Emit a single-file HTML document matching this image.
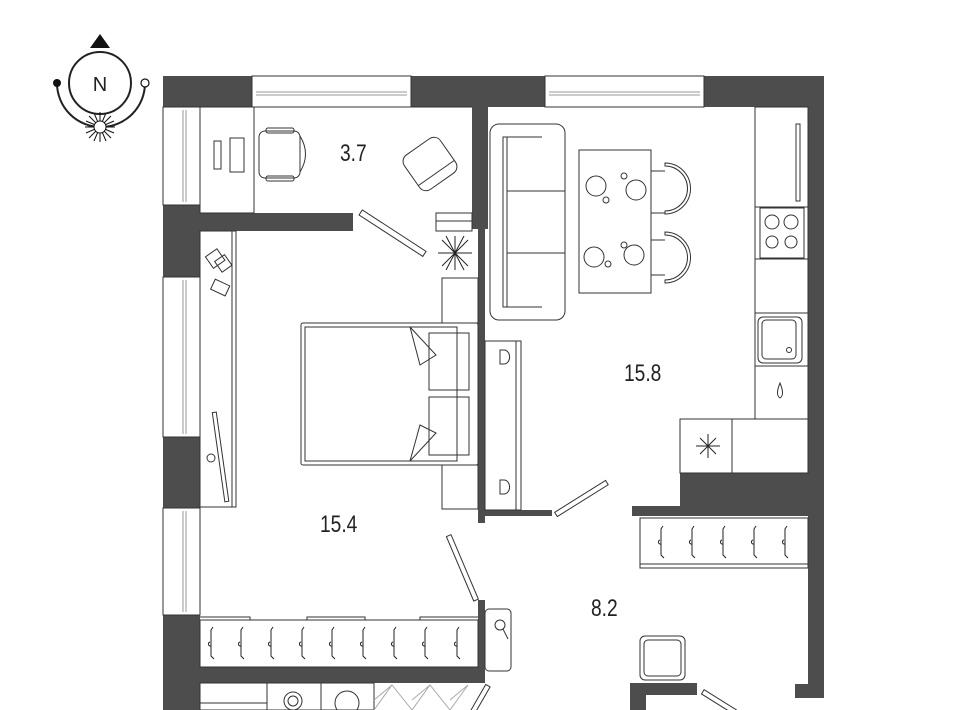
<!DOCTYPE html>
<html><head><meta charset="utf-8"><style>
html,body{margin:0;padding:0;background:#fff;}
svg{display:block}
text{font-family:"Liberation Sans Narrow","Liberation Sans",sans-serif;fill:#222}
</style></head><body>
<svg width="960" height="710" viewBox="0 0 960 710" xmlns="http://www.w3.org/2000/svg">
<g fill="none" stroke="#222" stroke-width="1.2">
<circle cx="100" cy="83" r="31" stroke-width="2"/>
<path d="M57,83 A44,44 0 0 0 145,83" stroke-width="2"/>
</g>
<polygon points="90,48 110,48 100,34" fill="#111"/>
<circle cx="57" cy="83" r="4" fill="#111"/>
<circle cx="145" cy="83" r="4" fill="#fff" stroke="#111" stroke-width="1.2"/>
<text x="100" y="91" font-size="20" text-anchor="middle" font-family="Liberation Sans">N</text>
<g stroke="#111" stroke-width="1">
<line x1="100" y1="112" x2="100" y2="142"/><line x1="85" y1="127" x2="115" y2="127"/>
<line x1="89" y1="116" x2="111" y2="138"/><line x1="111" y1="116" x2="89" y2="138"/>
<line x1="94" y1="113" x2="106" y2="141"/><line x1="106" y1="113" x2="94" y2="141"/>
<line x1="86" y1="121" x2="114" y2="133"/><line x1="86" y1="133" x2="114" y2="121"/>
</g>
<circle cx="100" cy="127" r="6" fill="#fff" stroke="#111"/>

<g fill="#4d4d4d">
<rect x="163" y="76" width="89" height="31"/>
<rect x="411" y="76" width="134" height="31"/>
<rect x="704" y="76" width="120" height="31"/>
<rect x="808" y="76" width="16" height="622"/>
<rect x="163" y="205" width="37" height="72"/>
<rect x="200" y="213" width="153" height="18"/>
<rect x="472" y="107" width="16" height="122"/>
<rect x="478" y="229" width="7" height="294"/>
<rect x="485" y="510" width="67" height="6"/>
<rect x="163" y="437" width="37" height="71"/>
<rect x="163" y="615" width="37" height="95"/>
<rect x="200" y="667" width="285" height="16"/>
<rect x="478" y="600" width="7" height="83"/>
<rect x="680" y="473" width="128" height="37"/>
<rect x="632" y="506" width="176" height="10"/>
<rect x="630" y="683" width="67" height="12"/>
<rect x="630" y="683" width="16" height="27"/>
<rect x="795" y="684" width="13" height="14"/>
</g>

<g fill="none" stroke="#333" stroke-width="1">
<rect x="252" y="76" width="159" height="31"/><line x1="256" y1="92" x2="407" y2="92" stroke="#999"/><line x1="256" y1="95" x2="407" y2="95" stroke="#999"/>
<rect x="545" y="76" width="159" height="31"/><line x1="549" y1="92" x2="700" y2="92" stroke="#999"/><line x1="549" y1="95" x2="700" y2="95" stroke="#999"/>
<rect x="163" y="107" width="37" height="98"/><line x1="183" y1="110" x2="183" y2="202" stroke="#999"/><line x1="186" y1="110" x2="186" y2="202" stroke="#999"/>
<rect x="163" y="277" width="37" height="160"/><line x1="183" y1="280" x2="183" y2="434" stroke="#999"/><line x1="186" y1="280" x2="186" y2="434" stroke="#999"/>
<rect x="163" y="508" width="37" height="107"/><line x1="183" y1="511" x2="183" y2="612" stroke="#999"/><line x1="186" y1="511" x2="186" y2="612" stroke="#999"/>
<line x1="200" y1="107" x2="472" y2="107"/>
<rect x="200" y="107" width="54" height="106"/>
<rect x="214" y="141" width="7" height="28"/><rect x="230" y="138" width="14" height="34"/>
<rect x="259" y="131" width="41" height="47" rx="6"/><path d="M300,136 Q311,154 300,172"/>
<rect x="266" y="128" width="28" height="5" rx="2"/><rect x="266" y="176" width="28" height="5" rx="2"/>
<g transform="rotate(-35 430 164)"><rect x="408" y="143" width="44" height="42" rx="8"/><line x1="408" y1="175" x2="452" y2="175"/></g>
<g transform="rotate(33 392 234)"><rect x="354" y="230" width="76" height="6"/></g>
<rect x="436" y="213" width="36" height="18"/><line x1="436" y1="221" x2="472" y2="221"/>
<g stroke="#222"><line x1="438" y1="253" x2="472" y2="253"/><line x1="455" y1="236" x2="455" y2="270"/><line x1="442" y1="240" x2="468" y2="266"/><line x1="468" y1="240" x2="442" y2="266"/><line x1="446" y1="236" x2="464" y2="270"/><line x1="464" y1="236" x2="446" y2="270"/></g>
<rect x="200" y="231" width="36" height="276"/><line x1="232" y1="231" x2="232" y2="507"/>
<g transform="rotate(-35 216 258)"><rect x="208" y="251" width="14" height="14"/></g>
<g transform="rotate(-35 223 263)"><rect x="217" y="257" width="12" height="13"/></g>
<g transform="rotate(25 220 288)"><rect x="212" y="282" width="16" height="11"/></g>
<g transform="rotate(-8 220 453)"><rect x="218" y="412" width="4" height="90"/></g>
<circle cx="211" cy="458" r="4"/>
<rect x="442" y="278" width="36" height="45"/><rect x="442" y="465" width="36" height="44"/>
<rect x="301" y="323" width="177" height="142" rx="2"/><rect x="305" y="327" width="152" height="134"/>
<rect x="429" y="333" width="40" height="57"/><rect x="429" y="397" width="40" height="58"/>
<path d="M410,327 L436,355 L420,365 Z"/><path d="M410,461 L436,433 L420,425 Z"/>
<path d="M200,617 L250,617 L250,620 L307,620 L307,617 L365,617 L365,620 L420,620 L420,617 L478,617"/>
<rect x="200" y="620" width="278" height="47"/>
<g transform="rotate(-23 467 580)"><rect x="465" y="532" width="5" height="70"/></g>
<rect x="485" y="609" width="26" height="62" rx="4"/><circle cx="500" cy="625" r="5"/><line x1="503" y1="629" x2="508" y2="639"/>
<rect x="200" y="683" width="67" height="27"/><line x1="200" y1="703" x2="267" y2="703"/>
<rect x="267" y="683" width="54" height="27"/><rect x="321" y="683" width="53" height="27"/>
<circle cx="293" cy="701" r="9"/><circle cx="293" cy="701" r="5"/><circle cx="347" cy="703" r="12"/>
<g stroke="#aaa"><path d="M374,710 L392,685 L412,710 L430,685 L450,710 L468,685 M392,685 L374,700 M430,685 L412,700 M468,685 L450,700"/></g>
<g transform="rotate(30 482 695)"><rect x="480" y="684" width="5" height="30"/></g>
<rect x="485" y="341" width="36" height="169"/><line x1="516" y1="341" x2="516" y2="510"/>
<path d="M500,350 h4 a4,5 0 0 1 0,14 h-4 z"/><path d="M500,480 h4 a4,5 0 0 1 0,14 h-4 z"/>
<g transform="rotate(-32 580 500)"><rect x="552" y="497" width="60" height="5"/></g>
<rect x="490" y="124" width="75" height="196" rx="9"/><path d="M504,137 L542,137 M504,307 L542,307"/><rect x="503" y="137" width="4" height="170"/>
<line x1="507" y1="191" x2="565" y2="191"/><line x1="507" y1="253" x2="565" y2="253"/>
<rect x="579" y="150" width="72" height="143"/>
<circle cx="596" cy="186" r="10"/><circle cx="636" cy="190" r="10"/><circle cx="594" cy="257" r="10"/><circle cx="634" cy="255" r="10"/>
<circle cx="606" cy="200" r="3"/><circle cx="624" cy="176" r="3"/><circle cx="608" cy="264" r="3"/><circle cx="624" cy="245" r="3"/>
<path d="M651,171 L665,171 M651,213 L665,213"/><path d="M665,163 A25,25 0 0 1 665,214 L665,211 A22,22 0 0 0 665,166 Z"/>
<path d="M651,240 L665,240 M651,275 L665,275"/><path d="M665,232 A25,25 0 0 1 665,283 L665,280 A22,22 0 0 0 665,235 Z"/>
<rect x="755" y="107" width="53" height="312"/>
<line x1="755" y1="207" x2="808" y2="207"/><line x1="755" y1="259" x2="808" y2="259"/><line x1="755" y1="313" x2="808" y2="313"/><line x1="755" y1="366" x2="808" y2="366"/>
<rect x="796" y="124" width="4" height="77"/>
<rect x="760" y="208" width="44" height="50"/><circle cx="772" cy="222" r="7"/><circle cx="791" cy="222" r="7"/><circle cx="772" cy="242" r="6"/><circle cx="791" cy="242" r="6"/>
<rect x="758" y="317" width="44" height="46" rx="5"/><rect x="762" y="320" width="34" height="39" rx="4"/><circle cx="789" cy="350" r="2.5"/>
<path d="M780,383 Q775,395 780,398 Q785,395 780,383 Z"/>
<rect x="680" y="419" width="128" height="54"/><line x1="732" y1="419" x2="732" y2="473"/>
<g stroke="#222"><line x1="696" y1="446" x2="720" y2="446"/><line x1="708" y1="434" x2="708" y2="458"/><line x1="700" y1="438" x2="716" y2="454"/><line x1="716" y1="438" x2="700" y2="454"/></g>
<rect x="640" y="518" width="168" height="50"/><line x1="640" y1="564" x2="808" y2="564"/>
<rect x="640" y="636" width="45" height="44" rx="5"/><rect x="644" y="640" width="37" height="36" rx="4"/>
<g transform="rotate(32 720 702)"><rect x="700" y="700" width="40" height="5"/></g>
</g>
<g fill="none" stroke="#222" stroke-width="1">
<path d="M213,627 l-2,3 v26 l3,3 M210,642 a2,2 0 1 0 1,4"/>
<path d="M243,627 l-2,3 v26 l3,3 M240,642 a2,2 0 1 0 1,4"/>
<path d="M273,627 l-2,3 v26 l3,3 M270,642 a2,2 0 1 0 1,4"/>
<path d="M304,627 l-2,3 v26 l3,3 M301,642 a2,2 0 1 0 1,4"/>
<path d="M334,627 l-2,3 v26 l3,3 M331,642 a2,2 0 1 0 1,4"/>
<path d="M365,627 l-2,3 v26 l3,3 M362,642 a2,2 0 1 0 1,4"/>
<path d="M396,627 l-2,3 v26 l3,3 M393,642 a2,2 0 1 0 1,4"/>
<path d="M427,627 l-2,3 v26 l3,3 M424,642 a2,2 0 1 0 1,4"/>
<path d="M459,627 l-2,3 v26 l3,3 M456,642 a2,2 0 1 0 1,4"/>
<path d="M663,526 l-2,3 v26 l3,3 M660,540 a2,2 0 1 0 1,4"/>
<path d="M694,526 l-2,3 v26 l3,3 M691,540 a2,2 0 1 0 1,4"/>
<path d="M725,526 l-2,3 v26 l3,3 M722,540 a2,2 0 1 0 1,4"/>
<path d="M756,526 l-2,3 v26 l3,3 M753,540 a2,2 0 1 0 1,4"/>
<path d="M787,526 l-2,3 v26 l3,3 M784,540 a2,2 0 1 0 1,4"/>
</g>
<g font-size="24">
<text x="340" y="161" transform="translate(340 0) scale(0.8 1) translate(-340 0)">3.7</text>
<text x="624" y="381" transform="translate(624 0) scale(0.8 1) translate(-624 0)">15.8</text>
<text x="320" y="532" transform="translate(320 0) scale(0.8 1) translate(-320 0)">15.4</text>
<text x="591" y="616" transform="translate(591 0) scale(0.8 1) translate(-591 0)">8.2</text>
</g>
</svg>
</body></html>
